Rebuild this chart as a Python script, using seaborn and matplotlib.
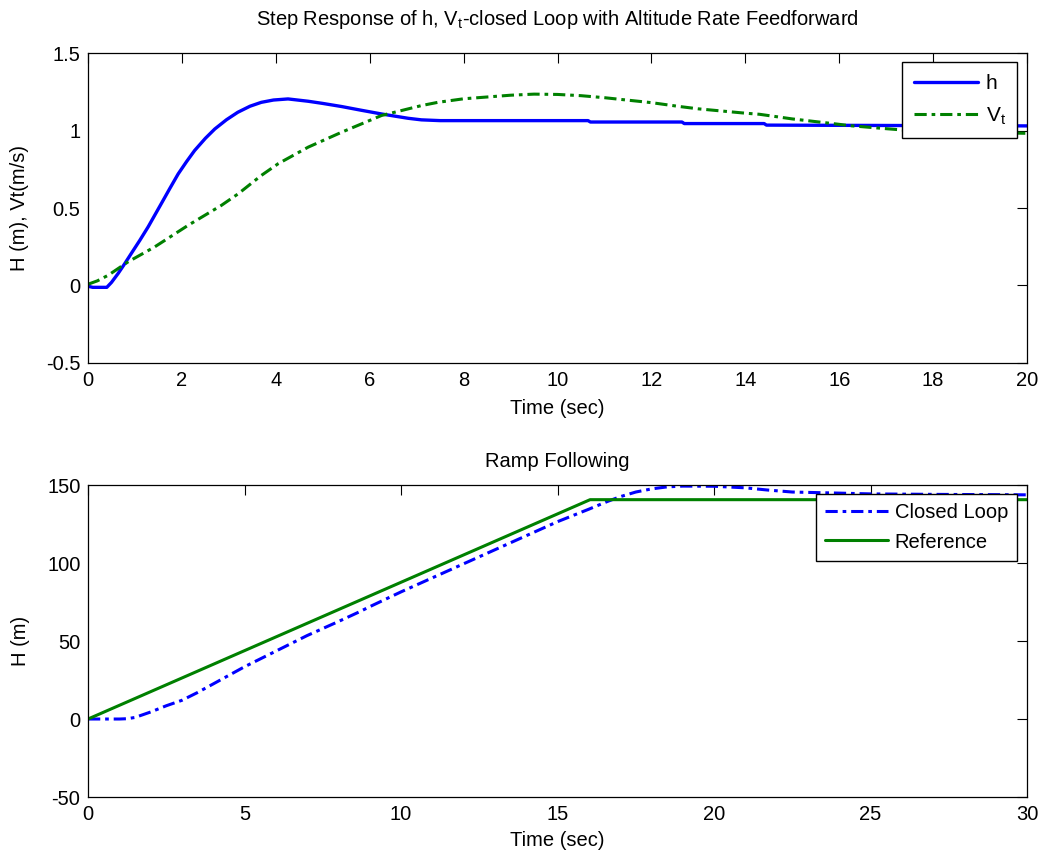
import numpy as np
import pandas as pd
import matplotlib
matplotlib.use("Agg")
import matplotlib.pyplot as plt
import seaborn as sns

# ---------------- data ----------------
h_time = [0, 0.1, 0.4, 0.5, 0.64, 0.78, 0.92, 1.1, 1.28, 1.42, 1.56, 1.74, 1.92, 2.1, 2.27,
          2.5, 2.70, 2.95, 3.19, 3.45, 3.69, 3.95, 4.26, 4.69, 5.0, 5.40, 5.8, 6.25, 6.82,
          7.1, 7.5, 10.65, 10.7, 12.65, 12.7, 14.4, 14.45, 20]
h_vals = [-0.005, -0.012, -0.012, 0.02, 0.077, 0.14, 0.206, 0.29, 0.378, 0.453, 0.528, 0.625,
          0.72, 0.80, 0.871, 0.95, 1.01, 1.07, 1.118, 1.157, 1.182, 1.197, 1.204, 1.189, 1.175,
          1.155, 1.132, 1.107, 1.079, 1.069, 1.064, 1.064, 1.055, 1.055, 1.045, 1.045, 1.035,
          1.03]

vt_time = [0, 0.2, 0.43, 0.85, 1.42, 2.13, 2.84, 3.2, 3.69, 4.05, 4.69, 5.40, 6.25, 7.1, 7.45,
           8, 9, 9.5, 10, 10.5, 11, 12, 12.6, 13, 14, 14.3, 15, 16, 16.2, 17, 17.5, 18, 19, 20]
vt_vals = [0.008, 0.03, 0.066, 0.152, 0.249, 0.388, 0.517, 0.592, 0.71, 0.786, 0.893, 0.989,
           1.097, 1.161, 1.182, 1.205, 1.228, 1.235, 1.233, 1.225, 1.212, 1.18, 1.155, 1.14,
           1.112, 1.105, 1.075, 1.04, 1.032, 1.012, 1.0, 0.995, 0.988, 0.982]

ramp_time = [0, 16.04, 30]
ramp_vals = [0, 140.6, 140.6]

cl_time = [0, 0.5, 1, 1.25, 1.5, 2, 2.5, 3, 3.5, 4, 4.5, 5, 5.5, 6, 6.5, 7, 7.5, 8, 8.7, 9, 10,
           11, 12, 13, 14, 15, 16, 16.6, 17, 17.5, 18, 18.5, 19, 20, 21, 21.7, 22.5, 24, 25, 27, 30]
cl_vals = [0, 0, 0, 0.2, 1, 4.5, 8.5, 12, 17, 22.5, 28, 33.5, 38.5, 43.5, 48.5, 53.5, 58, 62.5,
           69, 72, 81.5, 90.5, 99.5, 108.5, 117.5, 126.5, 134.5, 139.5, 142.5, 145.5, 147.5,
           148.8, 149.3, 149.2, 148.2, 146.8, 145.5, 144.8, 144.3, 144.0, 143.7]

top_xticks = list(range(0, 21, 2))
top_yticks = [-0.5, 0, 0.5, 1, 1.5]
top_yticklabels = ["-0.5", "0", "0.5", "1", "1.5"]
bot_xticks = list(range(0, 31, 5))
bot_yticks = [-50, 0, 50, 100, 150]

# ---------------- style ----------------
sns.set_style("white")
plt.rcParams['font.family'] = ['Liberation Sans', 'DejaVu Sans']
plt.rcParams['mathtext.fontset'] = 'custom'
plt.rcParams['mathtext.rm'] = 'Liberation Sans'
plt.rcParams['mathtext.it'] = 'Liberation Sans'
plt.rcParams['axes.unicode_minus'] = False
plt.rcParams['text.color'] = 'black'
plt.rcParams['axes.labelcolor'] = 'black'
plt.rcParams['legend.labelcolor'] = 'black'
FS = 14.5

BLUE = (0, 0, 1)
GREEN = (0, 0.5, 0)
DASHDOT = (4, 1.6, 1.2, 1.6)

fig = plt.figure(figsize=(10.43, 8.56), dpi=100)
ax1 = fig.add_axes([0.0844, 0.576, 0.9003, 0.362])
ax2 = fig.add_axes([0.0844, 0.0689, 0.9003, 0.3645])

def style_axes(ax):
    for s in ax.spines.values():
        s.set_color("black")
        s.set_linewidth(0.9)
        s.set_visible(True)
    ax.tick_params(direction="in", length=7, width=0.8, top=True, right=True,
                   labelsize=FS, colors="black", pad=5.5)

def style_legend(leg):
    fr = leg.get_frame()
    fr.set_linewidth(1.0)
    fr.set_facecolor("white")
    fr.set_alpha(1.0)
    leg.set_zorder(10)

# top subplot
df_h = pd.DataFrame({"t": h_time, "v": h_vals})
df_vt = pd.DataFrame({"t": vt_time, "v": vt_vals})
sns.lineplot(data=df_h, x="t", y="v", ax=ax1, color=BLUE, lw=2.4, label="h", sort=False)
sns.lineplot(data=df_vt, x="t", y="v", ax=ax1, color=GREEN, lw=2.2, label=r"V$_\mathregular{t}$",
             sort=False)
ax1.lines[1].set_dashes(DASHDOT)
ax1.set_xlim(0, 20)
ax1.set_ylim(-0.5, 1.5)
ax1.set_xticks(top_xticks)
ax1.set_yticks(top_yticks)
ax1.set_yticklabels(top_yticklabels)
ax1.set_xlabel("Time (sec)", fontsize=FS, labelpad=7)
ax1.set_ylabel("H (m), Vt(m/s)", fontsize=FS, labelpad=12)
ax1.set_title(r"Step Response of h, V$_\mathregular{t}$-closed Loop with Altitude Rate Feedforward",
              fontsize=FS, pad=20, color="black")
style_axes(ax1)
leg1 = ax1.legend(loc="upper right", bbox_to_anchor=(0.9895, 0.97), fontsize=FS + 0.5,
                  frameon=True, fancybox=False, edgecolor="black", framealpha=1,
                  handlelength=3.1, handletextpad=0.35, borderpad=0.55, labelspacing=0.6,
                  borderaxespad=0)
style_legend(leg1)
leg1.get_lines()[1].set_dashes(DASHDOT)

# bottom subplot
df_cl = pd.DataFrame({"t": cl_time, "v": cl_vals})
df_ref = pd.DataFrame({"t": ramp_time, "v": ramp_vals})
sns.lineplot(data=df_cl, x="t", y="v", ax=ax2, color=BLUE, lw=2.2, label="Closed Loop", sort=False)
sns.lineplot(data=df_ref, x="t", y="v", ax=ax2, color=GREEN, lw=2.2, label="Reference", sort=False)
ax2.lines[0].set_dashes(DASHDOT)
ax2.set_xlim(0, 30)
ax2.set_ylim(-50, 150)
ax2.set_xticks(bot_xticks)
ax2.set_yticks(bot_yticks)
ax2.set_xlabel("Time (sec)", fontsize=FS, labelpad=5)
ax2.set_ylabel("H (m)", fontsize=FS, labelpad=12)
ax2.set_title("Ramp Following", fontsize=FS, pad=13, color="black")
style_axes(ax2)
leg2 = ax2.legend(loc="upper right", bbox_to_anchor=(0.9895, 0.97), fontsize=FS,
                  frameon=True, fancybox=False, edgecolor="black", framealpha=1,
                  handlelength=3.1, handletextpad=0.35, borderpad=0.45, labelspacing=0.5,
                  borderaxespad=0)
style_legend(leg2)
leg2.get_lines()[0].set_dashes(DASHDOT)

fig.savefig("out.png", dpi=100, facecolor="white")
